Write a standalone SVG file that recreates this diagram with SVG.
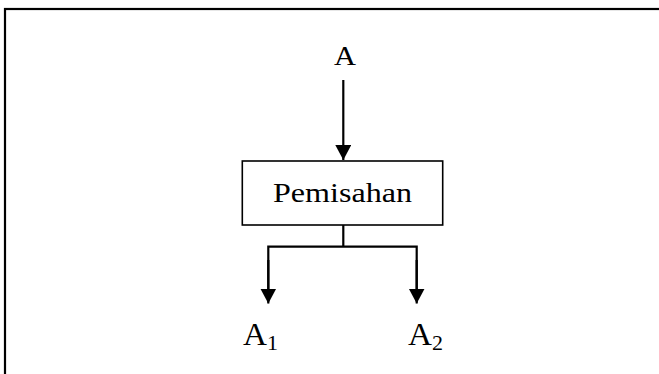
<svg xmlns="http://www.w3.org/2000/svg" width="659" height="374" viewBox="0 0 659 374">
<style>
.t{font-family:"Liberation Serif","Times New Roman",serif;fill:#000}
.c{stroke:#000;stroke-width:2.2;fill:none}
</style>
<defs>
<marker id="ah" markerWidth="15" markerHeight="16" refX="15" refY="8" orient="auto" markerUnits="userSpaceOnUse" viewBox="0 0 15 16">
<path d="M0,0 L15,8 L0,16 Z" fill="#000"/>
</marker>
</defs>
<rect x="0" y="0" width="659" height="374" fill="#fff"/>
<rect x="5" y="9" width="720" height="420" fill="none" stroke="#000" stroke-width="2.2"/>
<g id="nodeA"><text class="t" x="345" y="65" font-size="28" text-anchor="middle" textLength="22" lengthAdjust="spacingAndGlyphs">A</text></g>
<g id="nodePemisahan">
<rect x="242.3" y="161" width="200.4" height="64" fill="#fff" stroke="#000" stroke-width="1.6"/>
<text class="t" x="342.5" y="202" font-size="27.5" text-anchor="middle" textLength="139" lengthAdjust="spacingAndGlyphs">Pemisahan</text>
</g>
<g id="nodeA1"><text class="t" x="243" y="345" font-size="31.5"><tspan textLength="24" lengthAdjust="spacingAndGlyphs">A</tspan><tspan font-size="22" dy="5" dx="0">1</tspan></text></g>
<g id="nodeA2"><text class="t" x="408" y="345" font-size="31.5"><tspan textLength="24" lengthAdjust="spacingAndGlyphs">A</tspan><tspan font-size="22" dy="5" dx="0">2</tspan></text></g>
<g id="connectors">
<line class="c" x1="343.3" y1="80" x2="343.3" y2="160" marker-end="url(#ah)"/>
<polyline class="c" points="343.3,225 343.3,246.7" stroke-width="1.8"/>
<polyline class="c" points="268.3,295 268.3,246.7 416.7,246.7 416.7,295" stroke-width="2"/>
<line class="c" x1="268.3" y1="260" x2="268.3" y2="303.5" marker-end="url(#ah)"/>
<line class="c" x1="416.7" y1="260" x2="416.7" y2="303.5" marker-end="url(#ah)"/>
</g>
</svg>
